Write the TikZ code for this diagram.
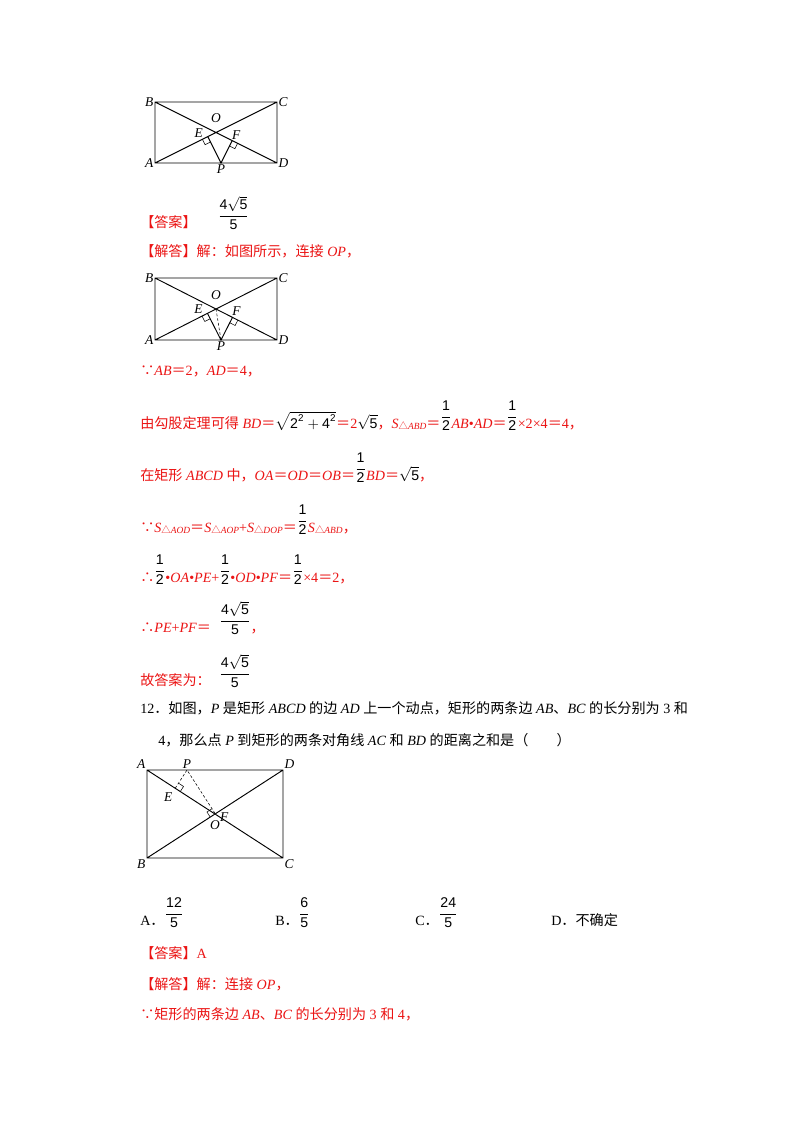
\documentclass[tikz,border=0pt]{standalone}
\usepackage{amsmath}
\usepackage{fontspec}
\setmainfont{Liberation Serif}
\setsansfont{Liberation Sans}
\newfontfamily\cjk{Noto Sans CJK SC}
\usetikzlibrary{calc}
\definecolor{ans}{RGB}{235,20,20}
\newcommand\zh[1]{{\cjk #1}}
\newcommand\mi[1]{\textit{#1}}
\newcommand\eq{\zh{＝}}
\newcommand\since{\zh{∵}}
\newcommand\hence{\zh{∴}}
\newcommand\tri[1]{\raisebox{-0.3ex}{\scriptsize\zh{△}\mi{#1}}}
\newcommand\fr[2]{\raisebox{1.1ex}{\color{black}\sffamily$\genfrac{}{}{0.4pt}{0}{\text{#1}}{\text{#2}}$}}
\newcommand\fsq{\fr{4$\sqrt{\text{5}}$}{5}}
\newcommand\rmark[3]{%
  \coordinate (m1) at ($(#1)!4.5pt!(#2)$);
  \coordinate (m2) at ($(#1)!4.5pt!(#3)$);
  \draw[thin] (m1) -- ($(m1)+(m2)-(#1)$) -- (m2);}
\begin{document}
\begin{tikzpicture}[x=0.744pt,y=-0.744pt,
  txt/.style={anchor=base west,inner sep=0pt,font=\fontsize{10.5}{12}\selectfont},
  red/.style={txt,text=ans},
  lab/.style={inner sep=1pt,font=\fontsize{10}{12}\selectfont\itshape},
  fig/.style={line width=0.7pt}]
\useasboundingbox[fill=white] (0,0) rectangle (800,1132);

% ---- Figure 1
\coordinate (B) at (155,102); \coordinate (C) at (277,102);
\coordinate (A) at (155,163); \coordinate (D) at (277,163);
\coordinate (O) at (216,132.5); \coordinate (P) at (221,163);
\coordinate (E) at ($(A)!(P)!(C)$); \coordinate (F) at ($(B)!(P)!(D)$);
\draw[fig] (A) -- (B) -- (C) -- (D) -- cycle (A) -- (C) (B) -- (D) (E) -- (P) -- (F);
\rmark{E}{P}{A}\rmark{F}{P}{D}
\node[lab,left] (lB) at (B) {B}; \node[lab,right] (lC) at (C) {C};
\node[lab,left] (lA) at (A) {A}; \node[lab,right] (lD) at (D) {D};
\node[lab] (lO) at ($(O)+(0,-14)$) {O}; \node[lab,below] (lP) at (P) {P};
\node[lab] (lE) at ($(E)+(-9,-4)$) {E}; \node[lab] (lF) at ($(F)+(4,-6)$) {F};

\node[red] (t1) at (140,227) {\zh{【答案】}\hspace{1.5em}\fsq};
\node[red] (t2) at (140,256) {\zh{【解答】解：如图所示，连接} \mi{OP}\zh{，}};

% ---- Figure 2
\coordinate (B2) at (155,278); \coordinate (C2) at (277,278);
\coordinate (A2) at (155,340); \coordinate (D2) at (277,340);
\coordinate (O2) at (216,309); \coordinate (P2) at (221,340);
\coordinate (E2) at ($(A2)!(P2)!(C2)$); \coordinate (F2) at ($(B2)!(P2)!(D2)$);
\draw[fig] (A2) -- (B2) -- (C2) -- (D2) -- cycle (A2) -- (C2) (B2) -- (D2) (E2) -- (P2) -- (F2);
\draw[thin,dash pattern=on 2pt off 1.5pt] (O2) -- (P2);
\rmark{E2}{P2}{A2}\rmark{F2}{P2}{D2}
\node[lab,left] (lB2) at (B2) {B}; \node[lab,right] (lC2) at (C2) {C};
\node[lab,left] (lA2) at (A2) {A}; \node[lab,right] (lD2) at (D2) {D};
\node[lab] (lO2) at ($(O2)+(0,-14)$) {O}; \node[lab,below] (lP2) at (P2) {P};
\node[lab] (lE2) at ($(E2)+(-9,-4)$) {E}; \node[lab] (lF2) at ($(F2)+(4,-6)$) {F};

\node[red] (t3) at (140,375) {\since\mi{AB}\eq 2\zh{，}\mi{AD}\eq 4\zh{，}};
\node[red] (t4) at (140,428) {\zh{由勾股定理可得} \mi{BD}\eq{\color{black}\sffamily$\sqrt{\text{2}^{\text{2}}+\text{4}^{\text{2}}}$}\eq 2{\color{black}\sffamily$\sqrt{\text{5}}$}\zh{，}\mi{S}\tri{ABD}\eq\fr{1}{2}\mi{AB}•\mi{AD}\eq\fr{1}{2}×2×4\eq 4\zh{，}};
\node[red] (t5) at (140,480) {\zh{在矩形} \mi{ABCD} \zh{中，}\mi{OA}\eq\mi{OD}\eq\mi{OB}\eq\fr{1}{2}\mi{BD}\eq{\color{black}\sffamily$\sqrt{\text{5}}$}\zh{，}};
\node[red] (t6) at (140,532) {\since\mi{S}\tri{AOD}\eq\mi{S}\tri{AOP}+\mi{S}\tri{DOP}\eq\fr{1}{2}\mi{S}\tri{ABD}\zh{，}};
\node[red] (t7) at (140,582) {\hence\fr{1}{2}•\mi{OA}•\mi{PE}+\fr{1}{2}•\mi{OD}•\mi{PF}\eq\fr{1}{2}×4\eq 2\zh{，}};
\node[red] (t8) at (140,632) {\hence\mi{PE}+\mi{PF}\eq\hspace{0.6em}\fsq\zh{，}};
\node[red] (t9) at (140,685) {\zh{故答案为：}\hspace{0.6em}\fsq};

\node[txt] (q1) at (140,713) {12\zh{．如图，}\mi{P} \zh{是矩形} \mi{ABCD} \zh{的边} \mi{AD} \zh{上一个动点，矩形的两条边} \mi{AB}\zh{、}\mi{BC} \zh{的长分别为} 3 \zh{和}};
\node[txt] (q2) at (158,745) {4\zh{，那么点} \mi{P} \zh{到矩形的两条对角线} \mi{AC} \zh{和} \mi{BD} \zh{的距离之和是（\hspace{2em}）}};

% ---- Figure 3
\coordinate (A3) at (147,770); \coordinate (D3) at (283,770);
\coordinate (B3) at (147,858); \coordinate (C3) at (283,858);
\coordinate (O3) at (215,814); \coordinate (P3) at (187,770);
\coordinate (E3) at ($(A3)!(P3)!(C3)$); \coordinate (F3) at ($(B3)!(P3)!(D3)$);
\draw[fig] (A3) -- (B3) -- (C3) -- (D3) -- cycle (A3) -- (C3) (B3) -- (D3);
\draw[thin,dash pattern=on 2pt off 1.5pt] (E3) -- (P3) -- (F3);
\rmark{E3}{P3}{C3}\rmark{F3}{P3}{B3}
\node[lab,above left] (lA3) at (A3) {A}; \node[lab,above right] (lD3) at (D3) {D};
\node[lab,below left] (lB3) at (B3) {B}; \node[lab,below right] (lC3) at (C3) {C};
\node[lab,above] (lP3) at (P3) {P}; \node[lab] (lO3) at ($(O3)+(0,11)$) {O};
\node[lab] (lE3) at ($(E3)+(-7,9)$) {E}; \node[lab] (lF3) at ($(F3)+(9,3)$) {F};

\node[txt] (oA) at (140,925) {A\zh{．}\fr{12}{5}};
\node[txt] (oB) at (275,925) {B\zh{．}\fr{6}{5}};
\node[txt] (oC) at (415,925) {C\zh{．}\fr{24}{5}};
\node[txt] (oD) at (551,925) {D\zh{．不确定}};

\node[red] (a1) at (140,958) {\zh{【答案】}A};
\node[red] (a2) at (140,989) {\zh{【解答】解：连接} \mi{OP}\zh{，}};
\node[red] (a3) at (140,1019) {\since\zh{矩形的两条边} \mi{AB}\zh{、}\mi{BC} \zh{的长分别为} 3 \zh{和} 4\zh{，}};
\end{tikzpicture}
\end{document}
